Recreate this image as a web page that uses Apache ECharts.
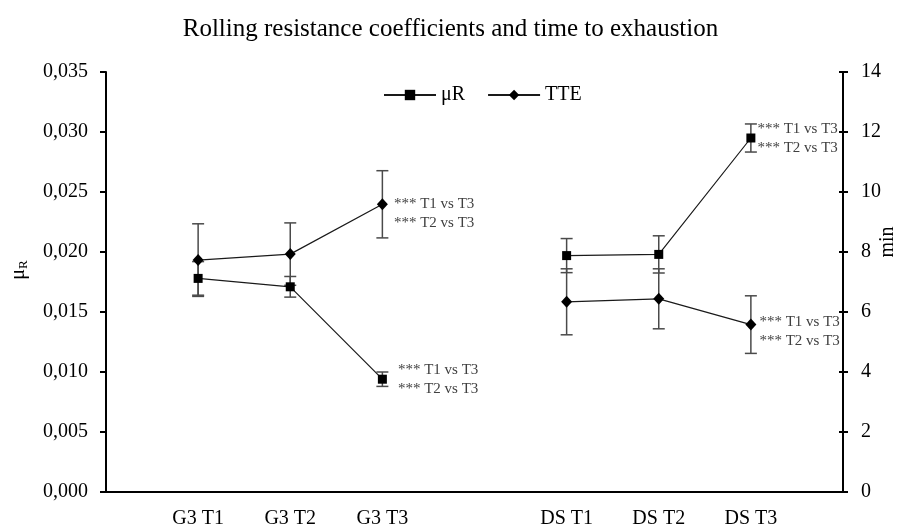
<!DOCTYPE html>
<html>
<head>
<meta charset="utf-8">
<script src="https://cdn.jsdelivr.net/npm/echarts@6/dist/echarts.min.js"></script>
<style>html,body{margin:0;padding:0;background:#fff}#c{width:901px;height:527px}</style>
</head>
<body>
<div id="c"></div>
<script>
var categories = ['', 'G3 T1', 'G3 T2', 'G3 T3', '', 'DS T1', 'DS T2', 'DS T3', ''];
var muR    = [null, 0.0178, 0.0171, 0.0094, null, 0.0197, 0.0198, 0.0295, null];
var muRsd  = [null, 0.0014, 0.00086, 0.0006, null, 0.00142, 0.00155, 0.00117, null];
var tte    = [null, 7.73, 7.93, 9.59, null, 6.34, 6.44, 5.58, null];
var tteSd  = [null, 1.21, 1.04, 1.12, null, 1.1, 1.0, 0.96, null];
var muRNotes = [null, null, null, '*** T1 vs T3\n*** T2 vs T3', null, null, null, '*** T1 vs T3\n*** T2 vs T3', null];
var tteNotes = [null, null, null, '*** T1 vs T3\n*** T2 vs T3', null, null, null, '*** T1 vs T3\n*** T2 vs T3', null];
var leftTicks = {min: 0, max: 0.035, interval: 0.005};
var rightTicks = {min: 0, max: 14, interval: 2};

var FONT = 'Liberation Serif';
var chart = echarts.init(document.getElementById('c'), null, {renderer: 'canvas'});

function noteItems(vals, notes, cfgs) {
  return vals.map(function (v, i) {
    if (notes[i] && v != null) {
      var c = cfgs[i] || {};
      return {value: v, label: {show: true, position: 'right', formatter: notes[i],
        distance: c.distance, offset: c.offset,
        fontFamily: FONT, fontSize: 15, color: '#404040', lineHeight: 19}};
    }
    return v;
  });
}
function errData(vals, sds) {
  var out = [];
  vals.forEach(function (v, i) { if (v != null) out.push([i, v, sds[i]]); });
  return out;
}
function errRender(params, api) {
  var i = api.value(0), v = api.value(1), sd = api.value(2);
  var t = api.coord([i, v + sd]);
  var b = api.coord([i, v - sd]);
  var w = 6;
  var st = {stroke: '#4a4a4a', lineWidth: 1.5};
  return {type: 'group', children: [
    {type: 'line', shape: {x1: t[0], y1: t[1], x2: b[0], y2: b[1]}, style: st},
    {type: 'line', shape: {x1: t[0] - w, y1: t[1], x2: t[0] + w, y2: t[1]}, style: st},
    {type: 'line', shape: {x1: b[0] - w, y1: b[1], x2: b[0] + w, y2: b[1]}, style: st}
  ]};
}

var muCfg = {3: {distance: 11, offset: [0, 0]}, 7: {distance: 2, offset: [0, 1]}};
var tteCfg = {3: {distance: 6, offset: [0, 9]}, 7: {distance: 3, offset: [0, 7]}};

var option = {
  backgroundColor: '#fff',
  animation: false,
  textStyle: {fontFamily: FONT},
  title: {
    text: 'Rolling resistance coefficients and time to exhaustion',
    left: 'center', top: 12,
    textStyle: {fontFamily: FONT, fontSize: 25, fontWeight: 'normal', color: '#000'}
  },
  legend: {
    left: 378, top: 80, itemWidth: 52, itemHeight: 13, itemGap: 22,
    textStyle: {fontFamily: FONT, fontSize: 20, color: '#000'},
    data: ['μR', 'TTE']
  },
  grid: {left: 106, right: 58, top: 72, bottom: 35, containLabel: false, outerBoundsMode: 'none'},
  xAxis: {
    type: 'category', data: categories, boundaryGap: false,
    axisLine: {lineStyle: {color: '#000', width: 2}},
    axisTick: {show: false},
    axisLabel: {fontFamily: FONT, fontSize: 20, color: '#000', margin: 17, interval: 0},
    splitLine: {show: false}
  },
  yAxis: [
    {
      type: 'value', position: 'left', min: leftTicks.min, max: leftTicks.max, interval: leftTicks.interval,
      name: '{a|μ}{b|R}', nameLocation: 'middle', nameGap: 76,
      nameTextStyle: {padding: [0, 0, 0, 24], rich: {a: {fontFamily: FONT, fontSize: 20, color: '#000'}, b: {fontFamily: FONT, fontSize: 13, color: '#000', padding: [10, 0, 0, 0]}}},
      axisLine: {show: true, lineStyle: {color: '#000', width: 2}},
      axisTick: {show: true, length: 6, lineStyle: {color: '#000', width: 2}},
      axisLabel: {fontFamily: FONT, fontSize: 20, color: '#000', margin: 18,
        formatter: function (v) { return v.toFixed(3).replace('.', ','); }},
      splitLine: {show: false}
    },
    {
      type: 'value', position: 'right', min: rightTicks.min, max: rightTicks.max, interval: rightTicks.interval,
      name: 'min', nameLocation: 'middle', nameGap: 35, nameRotate: 90, nameMoveOverlap: false,
      nameTextStyle: {fontFamily: FONT, fontSize: 20, color: '#000', padding: [0, 0, 0, 80]},
      axisLine: {show: true, lineStyle: {color: '#000', width: 2}},
      axisTick: {show: true, length: 5, lineStyle: {color: '#000', width: 2}},
      axisLabel: {fontFamily: FONT, fontSize: 20, color: '#000', margin: 18},
      splitLine: {show: false}
    },
    {
      type: 'value', position: 'right', min: rightTicks.min, max: rightTicks.max, interval: rightTicks.interval,
      axisLine: {show: false},
      axisTick: {show: true, inside: true, length: 4, lineStyle: {color: '#000', width: 2}},
      axisLabel: {show: false},
      splitLine: {show: false}
    }
  ],
  series: [
    {type: 'custom', name: 'errMu', yAxisIndex: 0, renderItem: errRender, data: errData(muR, muRsd), z: 1, silent: true},
    {type: 'custom', name: 'errTte', yAxisIndex: 1, renderItem: errRender, data: errData(tte, tteSd), z: 1, silent: true},
    {
      type: 'line', name: 'μR', yAxisIndex: 0, data: noteItems(muR, muRNotes, muCfg),
      symbol: 'rect', symbolSize: 9, connectNulls: false,
      lineStyle: {color: '#1a1a1a', width: 1.2}, itemStyle: {color: '#000'}, z: 3
    },
    {
      type: 'line', name: 'TTE', yAxisIndex: 1, data: noteItems(tte, tteNotes, tteCfg),
      symbol: 'diamond', symbolSize: [11, 12], connectNulls: false,
      lineStyle: {color: '#1a1a1a', width: 1.2}, itemStyle: {color: '#000'}, z: 3
    }
  ]
};
chart.setOption(option);
</script>
</body>
</html>
